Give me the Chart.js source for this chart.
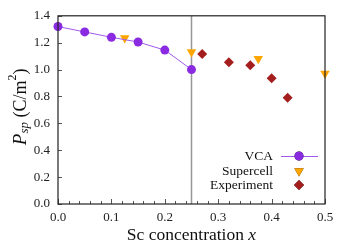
<!DOCTYPE html>
<html>
<head>
<meta charset="utf-8">
<script src="https://cdn.jsdelivr.net/npm/chart.js@4/dist/chart.umd.min.js"></script>
<style>
  html, body { margin: 0; padding: 0; background: #fff; }
  canvas { display: block; }
</style>
</head>
<body>
<canvas id="c" width="350" height="245"></canvas>
<script>
const vcaX = [0.0, 0.05, 0.10, 0.15, 0.20, 0.25];
const vcaY = [1.32, 1.28, 1.24, 1.205, 1.145, 1.00];
const superX = [0.125, 0.25, 0.375, 0.5];
const superY = [1.235, 1.13, 1.08, 0.97];
const expX = [0.27, 0.32, 0.36, 0.40, 0.43];
const expY = [1.115, 1.055, 1.033, 0.936, 0.79];
const markerX = [0.25, 0.25];
const markerY = [0.0, 1.4];
const xTicks = [0.0, 0.1, 0.2, 0.3, 0.4, 0.5];
const yTicks = [0.0, 0.2, 0.4, 0.6, 0.8, 1.0, 1.2, 1.4];

const fontfam = '"Liberation Serif", "DejaVu Serif", serif';
const purple = 'rgb(138,43,226)';
const purpleLine = 'rgb(160,90,235)';
const orange = 'rgb(255,165,0)';
const darkred = 'rgb(165,30,30)';

const pts = (xs, ys) => xs.map((x, i) => ({x: x, y: ys[i]}));

// inward ticks, frame, titles and legend
const decor = {
    id: 'decor',
    afterDraw: chart => {
        const ctx = chart.ctx;
        const a = chart.chartArea;
        const sx = chart.scales.x, sy = chart.scales.y;
        ctx.save();
        ctx.strokeStyle = '#555';
        ctx.lineWidth = 1;
        ctx.beginPath();
        for (let i = 0; i <= 25; i++) {
            const px = Math.round(sx.getPixelForValue(i * 0.02)) + 0.5;
            const len = (i % 5 === 0) ? 5 : 3;
            ctx.moveTo(px, a.bottom);
            ctx.lineTo(px, a.bottom - len);
        }
        for (const v of yTicks) {
            const py = Math.round(sy.getPixelForValue(v)) + 0.5;
            ctx.moveTo(a.left, py);
            ctx.lineTo(a.left + 4, py);
        }
        ctx.stroke();

        ctx.strokeStyle = '#222';
        ctx.lineWidth = 1.2;
        ctx.strokeRect(a.left, a.top, a.right - a.left, a.bottom - a.top);

        // x title
        ctx.fillStyle = '#111';
        ctx.textBaseline = 'middle';
        const t1 = 'Sc concentration ';
        ctx.font = '17.5px ' + fontfam;
        const w1 = ctx.measureText(t1).width;
        ctx.font = 'italic 17.5px ' + fontfam;
        const w2 = ctx.measureText('x').width;
        let cx = (a.left + a.right) / 2 - (w1 + w2) / 2;
        ctx.textAlign = 'left';
        ctx.font = '17.5px ' + fontfam;
        ctx.fillText(t1, cx, 235);
        ctx.font = 'italic 17.5px ' + fontfam;
        ctx.fillText('x', cx + w1, 235);

        // y title, rotated
        ctx.save();
        ctx.translate(21, (a.top + a.bottom) / 2 - 3);
        ctx.rotate(-Math.PI / 2);
        const parts = [
            {t: 'P', f: 'italic 19px ', dy: 0},
            {t: 'sp', f: 'italic 13px ', dy: 4},
            {t: ' (C/m', f: '18px ', dy: 0},
            {t: '2', f: '12px ', dy: -8},
            {t: ')', f: '18px ', dy: 0}
        ];
        let total = 0;
        for (const p of parts) { ctx.font = p.f + fontfam; p.w = ctx.measureText(p.t).width; total += p.w; }
        let px = -total / 2;
        for (const p of parts) {
            ctx.font = p.f + fontfam;
            ctx.fillText(p.t, px, p.dy);
            px += p.w;
        }
        ctx.restore();

        // legend
        const rows = [
            {label: 'VCA', y: 156, ds: 0},
            {label: 'Supercell', y: 171, ds: 1},
            {label: 'Experiment', y: 185, ds: 2}
        ];
        ctx.font = '13.5px ' + fontfam;
        ctx.textAlign = 'right';
        for (const r of rows) {
            ctx.fillStyle = '#111';
            ctx.fillText(r.label, 273, r.y);
            const ds = chart.data.datasets[r.ds];
            if (r.ds === 0) {
                ctx.strokeStyle = purpleLine;
                ctx.lineWidth = 1;
                ctx.beginPath();
                ctx.moveTo(281, r.y + 0.5);
                ctx.lineTo(318, r.y + 0.5);
                ctx.stroke();
            }
            Chart.helpers.drawPoint(ctx, {
                pointStyle: ds.pointStyle,
                radius: ds.pointRadius,
                rotation: ds.rotation || 0,
                borderWidth: 0
            }, 299, r.y);
            ctx.fillStyle = ds.backgroundColor;
            ctx.fill();
        }
        ctx.restore();
    }
};

new Chart(document.getElementById('c'), {
    type: 'scatter',
    data: {
        datasets: [
            {
                label: 'VCA',
                data: pts(vcaX, vcaY),
                showLine: true,
                borderColor: purpleLine,
                borderWidth: 1,
                backgroundColor: purple,
                pointBorderColor: purple,
                pointBackgroundColor: purple,
                pointStyle: 'circle',
                pointRadius: 4.5,
                pointBorderWidth: 0,
                clip: false,
                order: 1
            },
            {
                label: 'Supercell',
                data: pts(superX, superY),
                backgroundColor: orange,
                pointBackgroundColor: orange,
                pointStyle: 'triangle',
                rotation: 180,
                pointRotation: 180,
                pointRadius: 5.5,
                pointBorderWidth: 0,
                clip: false,
                order: 2
            },
            {
                label: 'Experiment',
                data: pts(expX, expY),
                backgroundColor: darkred,
                pointBackgroundColor: darkred,
                pointStyle: 'rectRot',
                pointRadius: 5,
                pointBorderWidth: 0,
                clip: false,
                order: 3
            },
            {
                label: 'x = 0.25',
                data: pts(markerX, markerY),
                showLine: true,
                borderColor: 'rgb(150,150,150)',
                borderWidth: 1.5,
                pointRadius: 0,
                order: 10
            }
        ]
    },
    options: {
        responsive: false,
        animation: false,
        layout: {padding: {top: 14, right: 25, left: 0, bottom: 0}},
        plugins: {legend: {display: false}, tooltip: {enabled: false}},
        scales: {
            x: {
                type: 'linear', min: 0, max: 0.5,
                afterFit: s => { s.height = 41; },
                afterBuildTicks: s => { s.ticks = xTicks.map(v => ({value: v})); },
                grid: {display: false, drawTicks: false},
                border: {display: false},
                ticks: {
                    font: {family: fontfam, size: 13},
                    color: '#222',
                    padding: 6,
                    maxRotation: 0,
                    callback: v => v.toFixed(1)
                }
            },
            y: {
                type: 'linear', min: 0, max: 1.4,
                afterFit: s => { s.width = 58; },
                afterBuildTicks: s => { s.ticks = yTicks.map(v => ({value: v})); },
                grid: {display: false, drawTicks: false},
                border: {display: false},
                ticks: {
                    font: {family: fontfam, size: 13},
                    color: '#222',
                    padding: 8,
                    callback: v => v.toFixed(1)
                }
            }
        }
    },
    plugins: [decor]
});
</script>
</body>
</html>
